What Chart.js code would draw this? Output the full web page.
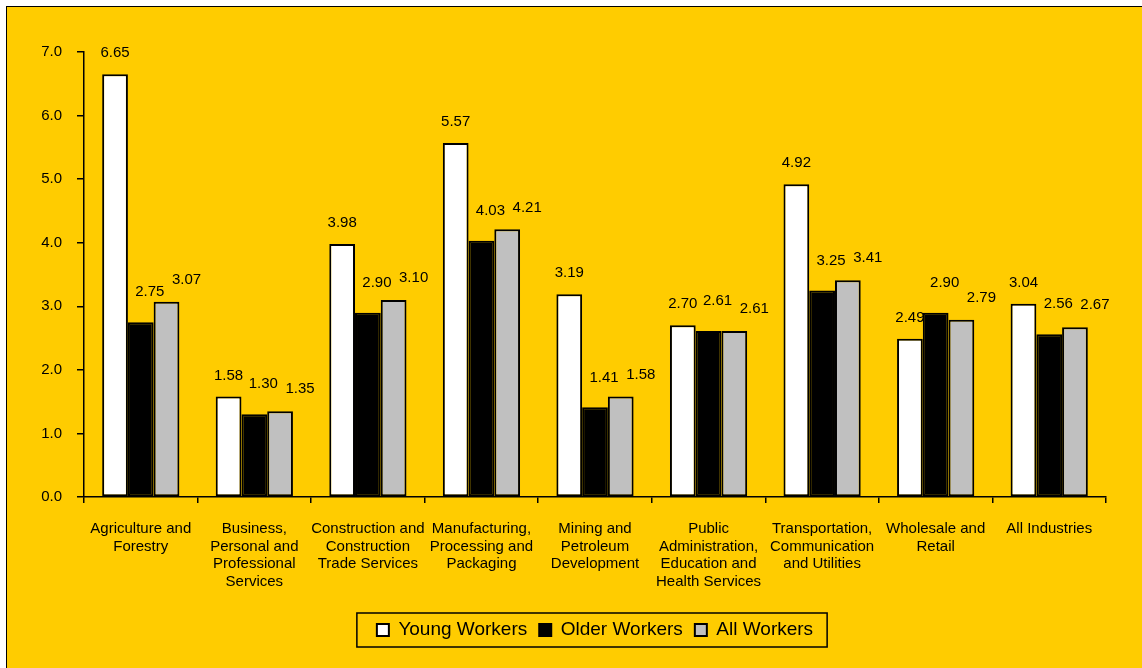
<!DOCTYPE html>
<html>
<head>
<meta charset="utf-8">
<title>Injury rates by industry</title>
<script src="https://cdn.jsdelivr.net/npm/chart.js@4/dist/chart.umd.min.js"></script>
<style>
  html, body { margin: 0; padding: 0; background: #ffffff; overflow: hidden; }
  #frame {
    position: absolute; left: 6px; top: 6px;
    width: 1140px; height: 670px;
    background: #FFCC00;
    border-top: 1.5px solid #000; border-left: 1.5px solid #000;
  }
  #chart { display: block; }
</style>
</head>
<body>
<div id="frame"><canvas id="chart" width="1135" height="661" style="width:1135px;height:661px"></canvas></div>
<script>
// Industry groups (multi-line axis labels)
const categories = [
  ['Agriculture and', 'Forestry'],
  ['Business,', 'Personal and', 'Professional', 'Services'],
  ['Construction and', 'Construction', 'Trade Services'],
  ['Manufacturing,', 'Processing and', 'Packaging'],
  ['Mining and', 'Petroleum', 'Development'],
  ['Public', 'Administration,', 'Education and', 'Health Services'],
  ['Transportation,', 'Communication', 'and Utilities'],
  ['Wholesale and', 'Retail'],
  ['All Industries']
];
const seriesNames = ['Young Workers', 'Older Workers', 'All Workers'];
const youngWorkers = [6.65, 1.58, 3.98, 5.57, 3.19, 2.70, 4.92, 2.49, 3.04];
const olderWorkers = [2.75, 1.30, 2.90, 4.03, 1.41, 2.61, 3.25, 2.90, 2.56];
const allWorkers   = [3.07, 1.35, 3.10, 4.21, 1.58, 2.61, 3.41, 2.79, 2.67];
const yMin = 0, yMax = 7, yStep = 1;

const FONT = "'Liberation Sans', Arial, sans-serif";

// Value labels above each bar, nudged per series
const valueLabels = {
  id: 'valueLabels',
  afterDatasetsDraw(chart, args, opts) {
    const ctx = chart.ctx;
    ctx.save();
    ctx.font = '15px ' + FONT;
    ctx.fillStyle = '#000';
    ctx.textAlign = 'center';
    ctx.textBaseline = 'middle';
    chart.data.datasets.forEach((ds, di) => {
      const meta = chart.getDatasetMeta(di);
      const off = opts.offsets[di] || [0, -20];
      meta.data.forEach((bar, i) => {
        ctx.fillText(ds.data[i].toFixed(2), bar.x + off[0], bar.y + off[1]);
      });
    });
    ctx.restore();
  }
};

// Frame around the legend entries
const legendFrame = {
  id: 'legendFrame',
  afterDraw(chart) {
    const boxes = chart.legend && chart.legend.legendHitBoxes;
    if (!boxes || !boxes.length) return;
    let l = Infinity, r = -Infinity, t = Infinity, b = -Infinity;
    boxes.forEach(h => {
      l = Math.min(l, h.left); r = Math.max(r, h.left + h.width);
      t = Math.min(t, h.top); b = Math.max(b, h.top + h.height);
    });
    const ctx = chart.ctx;
    ctx.save();
    ctx.strokeStyle = '#000';
    ctx.lineWidth = 1.5;
    ctx.strokeRect(l - 20, t - 7.5, (r - l) + 34, (b - t) + 15);
    ctx.restore();
  }
};

const fills = ['#FFFFFF', '#000000', '#C0C0C0'];
const seriesData = [youngWorkers, olderWorkers, allWorkers];

new Chart(document.getElementById('chart'), {
  type: 'bar',
  data: {
    labels: categories,
    datasets: seriesNames.map((name, k) => ({
      label: name,
      data: seriesData[k],
      backgroundColor: fills[k],
      borderColor: '#000',
      borderWidth: 2,
      borderSkipped: false,
      categoryPercentage: 0.68,
      barPercentage: 1.0
    }))
  },
  options: {
    responsive: false,
    devicePixelRatio: 1,
    animation: false,
    layout: { padding: { left: 0, right: 36, top: 45, bottom: 18.5 } },
    scales: {
      x: {
        grid: { display: true, drawOnChartArea: false, drawTicks: true, tickLength: 6, color: '#000', lineWidth: 1.5, offset: true },
        border: { display: true, color: '#000', width: 1.5 },
        ticks: {
          autoSkip: false, maxRotation: 0, minRotation: 0, padding: 17,
          color: '#000', font: { family: FONT, size: 15, lineHeight: 1.18 }
        },
        afterFit(scale) { scale.height = 111.5; }
      },
      y: {
        min: yMin, max: yMax,
        grid: { display: true, drawOnChartArea: false, drawTicks: true, tickLength: 7, color: '#000', lineWidth: 1.5 },
        border: { display: true, color: '#000', width: 1.5 },
        ticks: {
          stepSize: yStep, padding: 15, color: '#000',
          font: { family: FONT, size: 15 },
          callback: v => Number(v).toFixed(1)
        },
        afterFit(scale) { scale.width = 77; }
      }
    },
    plugins: {
      legend: {
        position: 'bottom',
        fullSize: false,
        labels: {
          boxWidth: 12, boxHeight: 12, padding: 12,
          color: '#000', font: { family: FONT, size: 19 }
        }
      },
      tooltip: { enabled: false },
      valueLabels: { offsets: [[0, -21], [9, -30], [20, -22]] }
    }
  },
  plugins: [valueLabels, legendFrame]
});
</script>
</body>
</html>
